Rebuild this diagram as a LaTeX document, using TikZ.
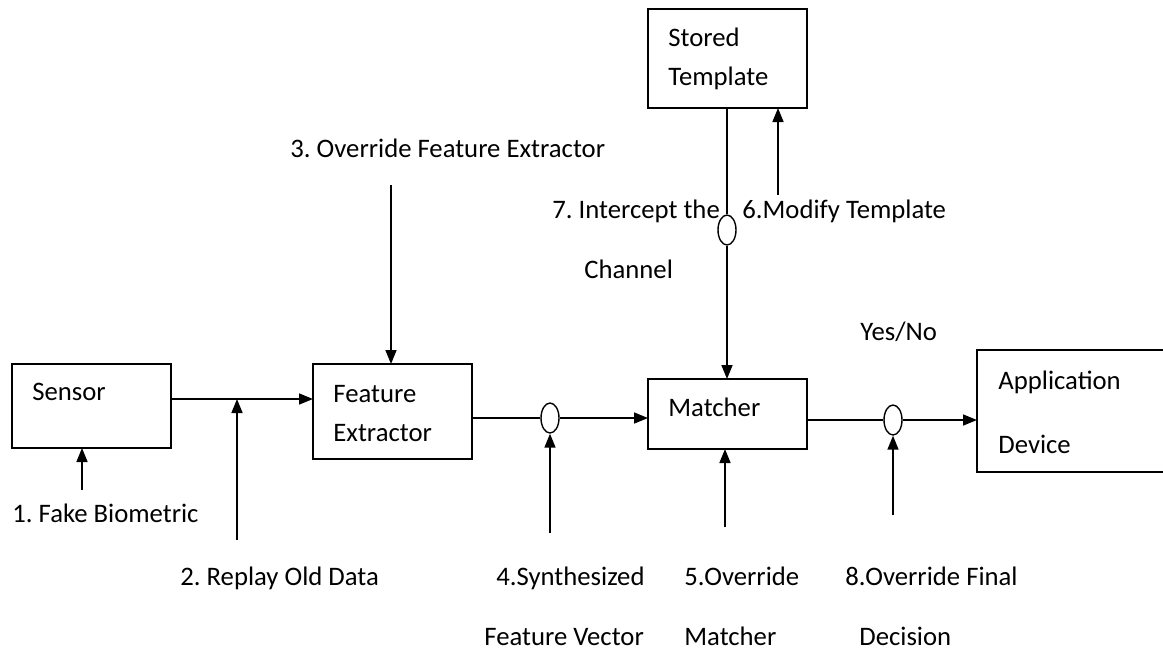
\documentclass[tikz,border=0pt]{standalone}
\usepackage{fontspec}
\setmainfont{Carlito}
\usepackage{tikz}
\usetikzlibrary{arrows.meta,shapes.geometric,positioning}
\frenchspacing

\begin{document}
\begin{tikzpicture}[
x=0.5pt, y=-0.5pt,
 font=\fontsize{13.35}{19.5}\selectfont,
    B/.style = {rectangle, draw, line width=0.8pt,% blocks of the system
                anchor=north west, outer sep=0pt, inner sep=0pt},
    T/.style = {anchor=base west, align=left, inner sep=0pt},% texts, base = last line
    E/.style = {ellipse, draw, line width=0.7pt, fill=white,% attack points
                minimum width=9pt, minimum height=15pt, inner sep=0pt},
    L/.style = {line width=0.8pt},
    A/.style = {L, -{Triangle[length=7pt,width=5.5pt]}},
                        ]
\useasboundingbox (0,0) rectangle (1163,650);
\clip (0,0) rectangle (1163,650);
% blocks
\node[B, minimum width=79.5pt, minimum height=42pt]   (sensor) at (12,364)  {};
\node[B, minimum width=79.5pt, minimum height=47.5pt] (fext)   at (313,364) {};
\node[B, minimum width=79.5pt, minimum height=49.5pt] (templ)  at (648,9)   {};
\node[B, minimum width=79.5pt, minimum height=35pt]   (match)  at (648,379) {};
\node[B, minimum width=100pt,  minimum height=61pt]   (appl)   at (977,350) {};
\node[T] (t-sensor) at (32,400)  {Sensor};
\node[T] (t-fext)   at (333,441) {Feature\\Extractor};
\node[T] (t-templ)  at (668,85)  {Stored\\Template};
\node[T] (t-match)  at (668,416) {Matcher};
\node[T] (t-appl)   at (998,453) {Application\\[12.5pt]Device};
% channels
\node[E] (e1) at (550,418) {};
\node[E] (e2) at (727,230) {};
\node[E] (e3) at (893,420) {};
\coordinate (j2) at (237,399);
\draw[L] (sensor.east |- j2) -- (j2);
\draw[A] (j2) -- (fext.west |- j2);
\draw[L] (fext.east |- e1) -- (e1);
\draw[A] (e1) -- (match.west |- e1);
\draw[L] (templ.south -| e2) -- (e2);
\draw[A] (e2) -- (match.north -| e2);
\draw[L] (match.east |- e3) -- (e3);
\draw[A] (e3) -- (appl.west |- e3);
% attacks
\coordinate (a1) at (82,490);
\coordinate (a2) at (237,540);
\coordinate (a3) at (391,185);
\coordinate (a4) at (550,533);
\coordinate (a5) at (725,527);
\coordinate (a6) at (778,195);
\coordinate (a8) at (893,515);
\draw[A] (a1) -- (sensor.south -| a1);
\draw[A] (a2) -- (j2);
\draw[A] (a3) -- (fext.north -| a3);
\draw[A] (a4) -- (e1.south);
\draw[A] (a5) -- (match.south -| a5);
\draw[A] (a6) -- (templ.south -| a6);
\draw[A] (a8) -- (e3.south);
\node[T] (l1) at (12,522)  {1. Fake Biometric};
\node[T] (l2) at (180,585) {2. Replay Old Data};
\node[T] (l3) at (290,157) {3. Override Feature Extractor};
\node[T] (l4) at (484,645) {\hspace*{6pt}4.Synthesized\\[10.5pt]Feature Vector};
\node[T] (l5) at (684,645) {5.Override\\[10.5pt]Matcher};
\node[T] (l6) at (742,218) {6.Modify Template};
\node[T] (l7) at (552,278) {7. Intercept the\\[10.5pt]\hspace*{16pt}Channel};
\node[T] (l8) at (845,645) {8.Override Final\\[10.5pt]\hspace*{7pt}Decision};
\node[T] (yn) at (860,340) {Yes/No};
\end{tikzpicture}
\end{document}
